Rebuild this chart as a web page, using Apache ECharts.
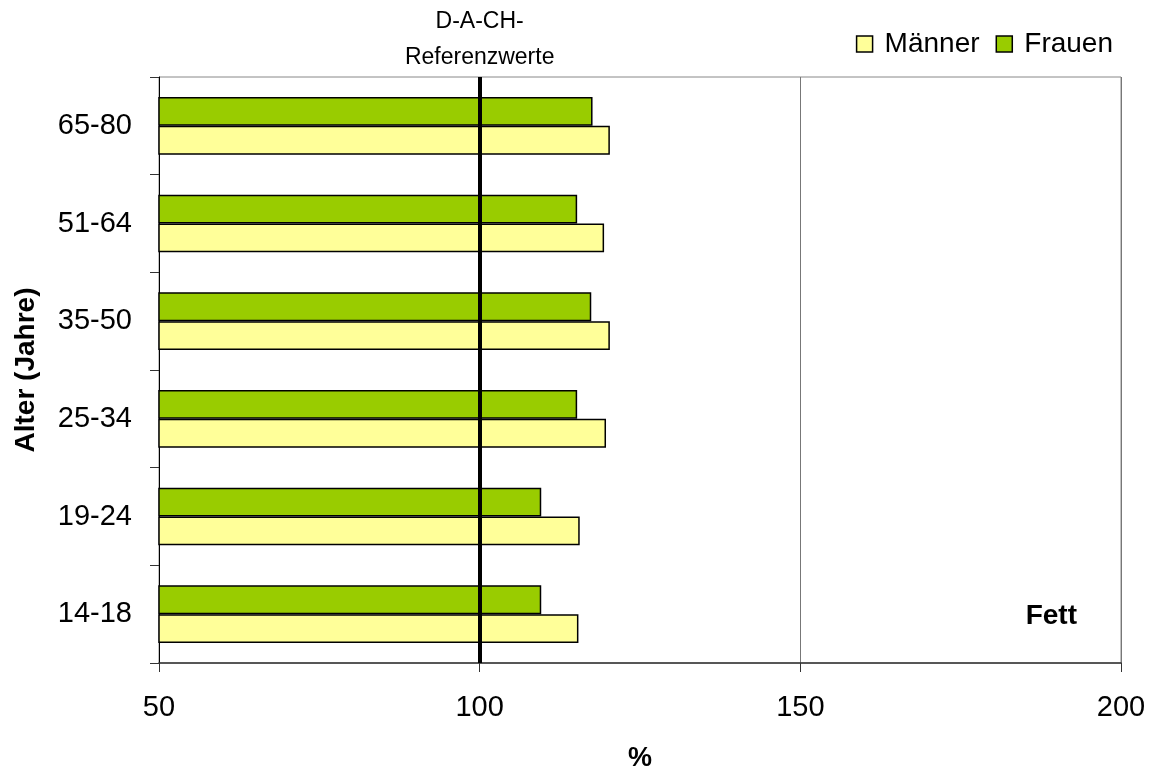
<!DOCTYPE html>
<html>
<head>
<meta charset="utf-8">
<script src="https://cdn.jsdelivr.net/npm/echarts@6/dist/echarts.min.js"></script>
<style>html,body{margin:0;padding:0;background:#fff}#c{width:1156px;height:769px}</style>
</head>
<body>
<div id="c"></div>
<script>
const categories = ['14-18', '19-24', '25-34', '35-50', '51-64', '65-80'];
const maenner = [115.4, 115.6, 119.7, 120.3, 119.4, 120.3];
const frauen = [109.6, 109.6, 115.2, 117.4, 115.2, 117.6];
const referenceValue = 100;
const xTicks = {min: 50, max: 200, interval: 50};

const FONT = '"Liberation Sans", Arial, sans-serif';
const chart = echarts.init(document.getElementById('c'), null, {renderer: 'canvas'});
chart.setOption({
  animation: false,
  backgroundColor: '#fff',
  textStyle: {fontFamily: FONT, color: '#000'},
  title: {
    text: 'Fett', right: 74, top: 597,
    textStyle: {fontFamily: FONT, fontSize: 28, fontWeight: 'bold', color: '#000'}
  },
  legend: {
    data: ['Männer', 'Frauen'],
    right: 38, top: 25,
    icon: 'rect',
    itemWidth: 16, itemHeight: 16, itemGap: 16,
    itemStyle: {borderColor: '#000', borderWidth: 1.5},
    textStyle: {fontFamily: FONT, fontSize: 28, color: '#000', padding: [0, 0, 0, 7]}
  },
  grid: {
    left: 159, right: 35, top: 77, bottom: 106,
    outerBoundsMode: 'none',
    show: true, borderColor: '#888', borderWidth: 1, containLabel: false
  },
  xAxis: {
    type: 'value', min: xTicks.min, max: xTicks.max, interval: xTicks.interval,
    name: '%', nameLocation: 'middle', nameGap: 82,
    nameTextStyle: {fontFamily: FONT, fontSize: 27, fontWeight: 'bold', color: '#000'},
    axisLine: {show: true, lineStyle: {color: '#333', width: 1.5}},
    axisTick: {show: true, length: 9, inside: false, lineStyle: {color: '#333'}},
    axisLabel: {fontFamily: FONT, fontSize: 29, color: '#000', margin: 30},
    splitLine: {show: true, lineStyle: {color: '#777', width: 1}}
  },
  yAxis: {
    type: 'category', data: categories,
    name: 'Alter (Jahre)', nameLocation: 'middle', nameGap: 119, nameRotate: 90,
    nameTextStyle: {fontFamily: FONT, fontSize: 28, fontWeight: 'bold', color: '#000'},
    axisLine: {show: true, lineStyle: {color: '#000', width: 1}},
    axisTick: {show: true, length: 9, inside: false, alignWithLabel: false, lineStyle: {color: '#333'}},
    axisLabel: {fontFamily: FONT, fontSize: 29, color: '#000', margin: 27, padding: [4, 0, 0, 0]},
    splitLine: {show: false}
  },
  series: [
    {
      name: 'Frauen', type: 'bar', data: frauen,
      barGap: '0%', barCategoryGap: '41%',
      itemStyle: {color: '#99CC00', borderColor: '#000', borderWidth: 1.5},
      z: 2,
      markLine: {
        silent: true, symbol: 'none', z: 5,
        lineStyle: {color: '#000', width: 4, type: 'solid'},
        label: {
          show: true, position: 'end', distance: 1,
          formatter: 'D-A-CH-\nReferenzwerte',
          fontFamily: FONT, fontSize: 23, lineHeight: 36, color: '#000'
        },
        data: [{xAxis: referenceValue}]
      }
    },
    {
      name: 'Männer', type: 'bar', data: maenner,
      barGap: '0%', barCategoryGap: '41%',
      itemStyle: {color: '#FFFF99', borderColor: '#000', borderWidth: 1.5},
      z: 2
    }
  ]
});
</script>
</body>
</html>
